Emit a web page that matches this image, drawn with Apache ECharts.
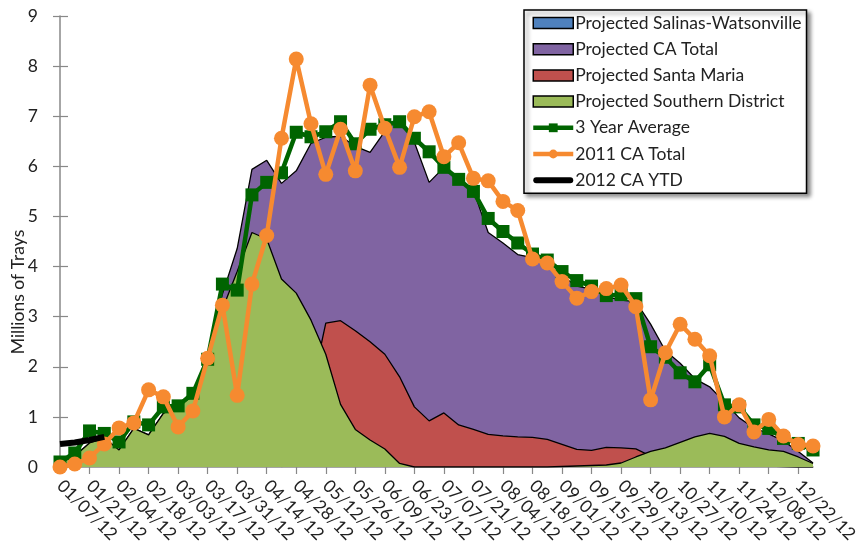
<!DOCTYPE html>
<html>
<head>
<meta charset="utf-8">
<script src="https://cdn.jsdelivr.net/npm/echarts@6/dist/echarts.min.js"></script>
<style>
html,body{margin:0;padding:0;background:#fff;}
#chart{width:861px;height:546px;}
</style>
</head>
<body>
<div id="chart"></div>
<script>
var categories = ['01/07/12','01/14/12','01/21/12','01/28/12','02/04/12','02/11/12','02/18/12','02/25/12','03/03/12','03/10/12','03/17/12','03/24/12','03/31/12','04/07/12','04/14/12','04/21/12','04/28/12','05/05/12','05/12/12','05/19/12','05/26/12','06/02/12','06/09/12','06/16/12','06/23/12','06/30/12','07/07/12','07/14/12','07/21/12','07/28/12','08/04/12','08/11/12','08/18/12','08/25/12','09/01/12','09/08/12','09/15/12','09/22/12','09/29/12','10/06/12','10/13/12','10/20/12','10/27/12','11/03/12','11/10/12','11/17/12','11/24/12','12/01/12','12/08/12','12/15/12','12/22/12','12/29/12'];

var yTicks = [0,1,2,3,4,5,6,7,8,9];

var salinasWatsonville = [];

var caTotal = [0.08,0.22,0.48,0.58,0.34,0.77,0.64,1.07,1.22,1.42,
  2.25,3.45,4.36,5.94,6.12,5.66,5.91,6.46,6.58,6.60,
  6.40,6.28,6.70,6.98,6.48,5.68,5.98,5.75,5.52,4.68,
  4.47,4.24,4.18,4.05,3.81,3.61,3.55,3.40,3.33,3.30,
  2.85,2.32,2.07,1.76,1.60,1.30,0.98,0.78,0.66,0.52,
  0.31,0.08];

var santaMaria = [null,null,null,null,null,null,null,null,null,null,
  null,null,null,null,null,0.0,0.5,1.5,2.87,2.92,
  2.72,2.50,2.25,1.80,1.20,0.92,1.08,0.84,0.75,0.65,
  0.62,0.60,0.59,0.55,0.45,0.35,0.33,0.39,0.38,0.36,
  0.22,0.12,0.10,0.08,0.06,0.05,0.04,0.03,0.02,0.01,
  0.0,0.0];

var southernDistrict = [0.08,0.22,0.48,0.58,0.34,0.77,0.64,1.07,1.22,1.42,
  2.20,3.15,3.90,4.68,4.55,3.75,3.47,2.93,2.25,1.25,
  0.75,0.54,0.36,0.07,0.0,0.0,0.0,0.0,0.0,0.0,
  0.0,0.0,0.0,0.0,0.01,0.02,0.03,0.04,0.08,0.20,
  0.31,0.38,0.49,0.60,0.67,0.61,0.47,0.40,0.34,0.31,
  0.20,0.07];

var threeYearAverage = [0.10,0.28,0.72,0.67,0.50,0.90,0.84,1.20,1.22,1.47,
  2.15,3.65,3.53,5.43,5.68,5.87,6.68,6.59,6.69,6.89,
  6.45,6.74,6.83,6.89,6.56,6.29,5.98,5.74,5.50,4.96,
  4.70,4.47,4.25,4.13,3.90,3.72,3.61,3.42,3.44,3.36,
  2.40,2.19,1.88,1.70,2.04,1.24,1.20,0.84,0.77,0.57,
  0.47,0.34];

var caTotal2011 = [0.0,0.06,0.18,0.46,0.78,0.88,1.54,1.40,0.80,1.12,
  2.17,3.23,1.43,3.65,4.62,6.56,8.14,6.85,5.84,6.74,
  5.91,7.62,6.76,5.98,6.99,7.09,6.19,6.47,5.76,5.71,
  5.30,5.12,4.15,4.07,3.70,3.37,3.50,3.56,3.63,3.20,
  1.34,2.28,2.85,2.55,2.22,1.00,1.24,0.70,0.95,0.62,
  0.45,0.42];

var caYTD2012 = [0.46,0.49,0.54,0.60];

var FONT = 'Lato';
var FS = 17.5;
var chart = echarts.init(document.getElementById('chart'), null, {renderer:'canvas'});

function areaSeries(name, data, color, z) {
  return {
    name: name, type: 'line', data: data,
    symbol: 'none', showSymbol: false,
    lineStyle: {color: '#000', width: 1.3},
    itemStyle: {color: color, borderColor: '#000'},
    areaStyle: {color: color, opacity: 1, origin: 'start'},
    emphasis: {disabled: true},
    z: z
  };
}

var option = {
  animation: false,
  backgroundColor: '#fff',
  textStyle: {fontFamily: FONT},
  grid: {left: 60, right: 36, top: 16, bottom: 79, containLabel: false},
  legend: {
    orient: 'vertical',
    left: 524, top: 10,
    padding: [4, 5, 4, 7],
    itemGap: 8.2,
    itemWidth: 40,
    itemHeight: 11,
    selectedMode: false,
    backgroundColor: '#fff',
    borderColor: '#000',
    borderWidth: 1.5,
    shadowColor: 'rgba(0,0,0,0.45)',
    shadowBlur: 4,
    shadowOffsetX: 3,
    shadowOffsetY: 3,
    textStyle: {fontFamily: FONT, fontSize: FS, color: '#222', padding: [0,0,0,-3]},
    data: [
      {name: 'Projected Salinas-Watsonville', icon: 'rect', itemStyle: {color: '#4F81BD', borderColor: '#000', borderWidth: 1.5}},
      {name: 'Projected CA Total', icon: 'rect', itemStyle: {color: '#8064A2', borderColor: '#000', borderWidth: 1.5}},
      {name: 'Projected Santa Maria', icon: 'rect', itemStyle: {color: '#C0504D', borderColor: '#000', borderWidth: 1.5}},
      {name: 'Projected Southern District', icon: 'rect', itemStyle: {color: '#9BBB59', borderColor: '#000', borderWidth: 1.5}},
      {name: '3 Year Average', lineStyle: {width: 4.5}},
      {name: '2011 CA Total', lineStyle: {width: 4.5}},
      {name: '2012 CA YTD', icon: 'path://M3,0 L37,0 A3,3 0 0 1 37,6 L3,6 A3,3 0 0 1 3,0 Z', itemStyle: {color: '#000'}}
    ]
  },
  graphic: [{
    type: 'text', x: 18, y: 292, rotation: Math.PI / 2,
    style: {text: 'Millions of Trays', fontFamily: FONT, fontSize: FS, fill: '#222', align: 'center', verticalAlign: 'middle'}
  }],
  xAxis: {
    type: 'category', data: categories, boundaryGap: false,
    axisLine: {lineStyle: {color: '#888', width: 1.5}},
    axisTick: {show: true, interval: 1, length: 7, lineStyle: {color: '#888', width: 1.2}},
    axisLabel: {interval: 1, rotate: -45, margin: 16, fontFamily: FONT, fontSize: FS, color: '#222'},
    splitLine: {show: false}
  },
  yAxis: [{
    type: 'value', min: yTicks[0], max: yTicks[yTicks.length - 1], interval: 1,
    axisLine: {show: true, lineStyle: {color: '#888', width: 1.5}},
    axisTick: {show: true, length: 7, lineStyle: {color: '#888', width: 1.2}},
    axisLabel: {margin: 22, fontFamily: FONT, fontSize: FS, color: '#222'},
    splitLine: {show: false}
  }, {
    type: 'value', min: yTicks[0], max: yTicks[yTicks.length - 1], interval: 1, position: 'left',
    axisLine: {show: false},
    axisTick: {show: true, inside: true, length: 8, lineStyle: {color: '#888', width: 1.2}},
    axisLabel: {show: false},
    splitLine: {show: false}
  }],
  series: [
    areaSeries('Projected Salinas-Watsonville', salinasWatsonville, '#4F81BD', 2),
    areaSeries('Projected CA Total', caTotal, '#8064A2', 3),
    areaSeries('Projected Santa Maria', santaMaria, '#C0504D', 4),
    areaSeries('Projected Southern District', southernDistrict, '#9BBB59', 5),
    {
      name: '3 Year Average', type: 'line', data: threeYearAverage,
      symbol: 'rect', symbolSize: 13, showAllSymbol: true,
      lineStyle: {color: '#006400', width: 4.5},
      itemStyle: {color: '#006400'},
      emphasis: {disabled: true}, z: 6
    },
    {
      name: '2011 CA Total', type: 'line', data: caTotal2011,
      symbol: 'circle', symbolSize: 15, showAllSymbol: true,
      lineStyle: {color: '#F68A30', width: 4.5},
      itemStyle: {color: '#F68A30'},
      emphasis: {disabled: true}, z: 7
    },
    {
      name: '2012 CA YTD', type: 'line', data: caYTD2012,
      symbol: 'none', showSymbol: false,
      lineStyle: {color: '#000', width: 6},
      itemStyle: {color: '#000'},
      emphasis: {disabled: true}, z: 8
    }
  ]
};
chart.setOption(option);
</script>
</body>
</html>
